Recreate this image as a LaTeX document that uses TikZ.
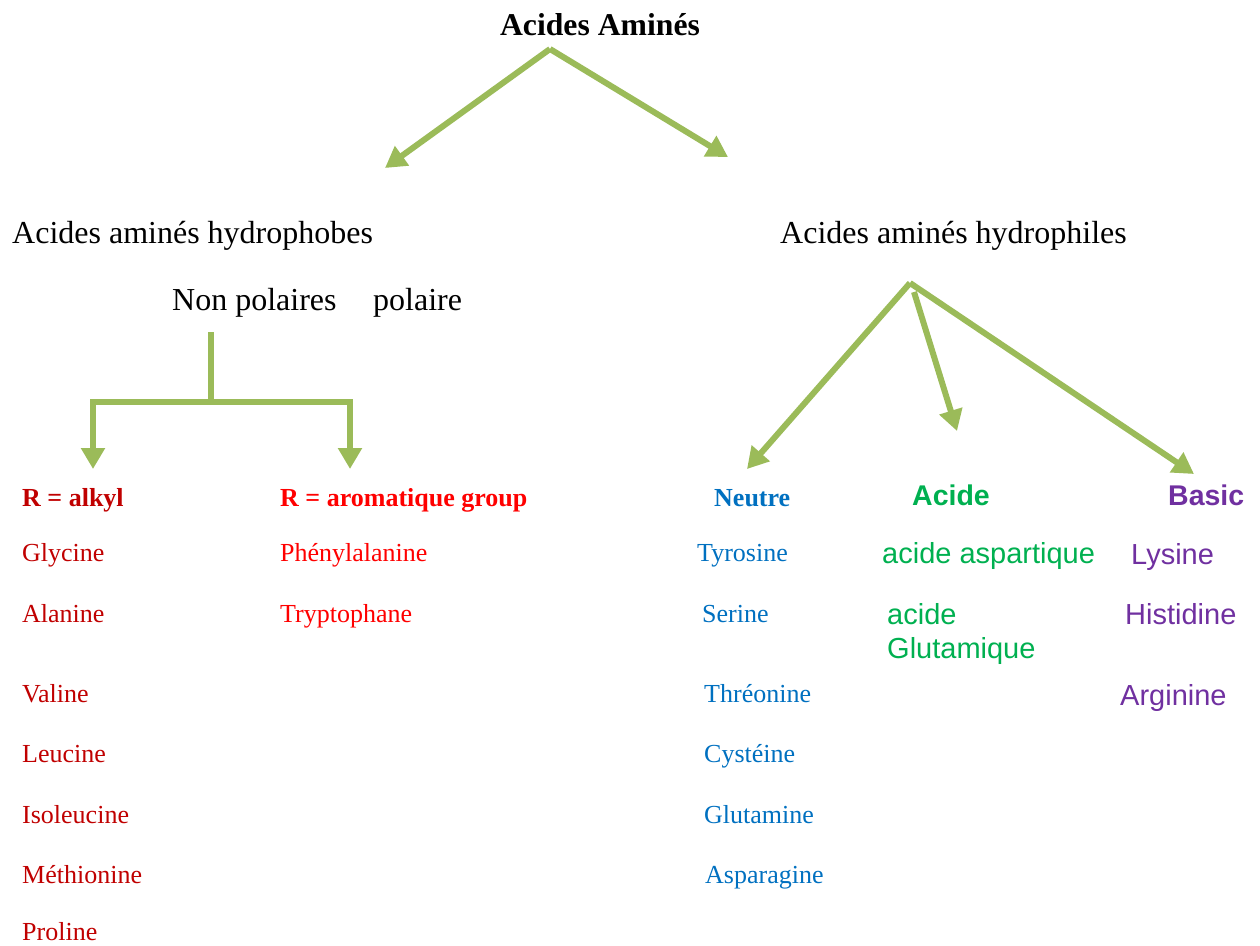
\documentclass[tikz,border=0pt]{standalone}
\usepackage{fontspec}
\setmainfont{Liberation Serif}
\newfontfamily\arialfont{Liberation Sans}
\usetikzlibrary{arrows.meta}
\definecolor{lineg}{HTML}{9BBB59}
\definecolor{dred}{HTML}{C00000}
\definecolor{bred}{HTML}{FF0000}
\definecolor{nblue}{HTML}{0070C0}
\definecolor{agreen}{HTML}{00B050}
\definecolor{bpurple}{HTML}{7030A0}
\begin{document}
\begin{tikzpicture}[x=1pt,y=-1pt,
  lbl/.style={anchor=base west, inner sep=0pt, font=\fontsize{32}{36}\selectfont},
  item/.style={anchor=base west, inner sep=0pt, font=\fontsize{26}{30}\selectfont},
  bitem/.style={anchor=base west, inner sep=0pt, font=\bfseries\fontsize{26}{30}\selectfont},
  sitem/.style={anchor=base west, inner sep=0pt, font=\arialfont\fontsize{29}{33}\selectfont},
  sbitem/.style={anchor=base west, inner sep=0pt, font=\arialfont\bfseries\fontsize{28.5}{33}\selectfont},
  seg/.style={draw=lineg, line width=6pt},
  conn/.style={draw=lineg, line width=6pt, -{Triangle[length=21pt,width=23pt]}}]
\useasboundingbox (0,0) rectangle (1260,945);

% titles
\node[anchor=base, inner sep=0pt, font=\bfseries\fontsize{31.7}{36}\selectfont] (title) at (600,35) {Acides Aminés};
\node[lbl] (phob) at (12,243) {Acides aminés hydrophobes};
\node[lbl] (phil) at (780,243) {Acides aminés hydrophiles};
\node[lbl] (npol) at (172,310) {Non polaires};
\node[lbl] (pol) at (373,310) {polaire};

% left column
\node[bitem, text=dred] (alkyl) at (22,506) {R = alkyl};
\node[item, text=dred] (gly) at (22,561) {Glycine};
\node[item, text=dred] (ala) at (22,622) {Alanine};
\node[item, text=dred] (val) at (22,702) {Valine};
\node[item, text=dred] (leu) at (22,762) {Leucine};
\node[item, text=dred] (ile) at (22,823) {Isoleucine};
\node[item, text=dred] (met) at (22,883) {Méthionine};
\node[item, text=dred] (pro) at (22,940) {Proline};

\node[bitem, text=bred] (arom) at (280,506) {R = aromatique group};
\node[item, text=bred] (phe) at (280,561) {Phénylalanine};
\node[item, text=bred] (trp) at (280,622) {Tryptophane};

% neutral
\node[bitem, text=nblue] (neutre) at (714,506) {Neutre};
\node[item, text=nblue] (tyr) at (697,561) {Tyrosine};
\node[item, text=nblue] (ser) at (702,622) {Serine};
\node[item, text=nblue] (thr) at (704,702) {Thréonine};
\node[item, text=nblue] (cys) at (704,762) {Cystéine};
\node[item, text=nblue] (gln) at (704,823) {Glutamine};
\node[item, text=nblue] (asn) at (705,883) {Asparagine};

% acid
\node[sbitem, text=agreen] (acide) at (912,505) {Acide};
\node[sitem, text=agreen] (asp) at (882,563) {acide aspartique};
\node[sitem, text=agreen] (glu1) at (887,624) {acide};
\node[sitem, text=agreen] (glu2) at (887,658) {Glutamique};

% basic
\node[sbitem, text=bpurple] (basic) at (1168,505) {Basic};
\node[sitem, text=bpurple] (lys) at (1131,564) {Lysine};
\node[sitem, text=bpurple] (his) at (1125,624) {Histidine};
\node[sitem, text=bpurple] (arg) at (1120,705) {Arginine};

% connector points
\coordinate (tapex) at (550,49);
\coordinate (tleft) at (385,168);
\coordinate (tright) at (728,157);
\coordinate (vtop) at (211,332);
\coordinate (vbot) at (211,402);
\coordinate (talk) at (93,469);
\coordinate (taro) at (350,469);
\coordinate (hapex) at (910,283);
\coordinate (hmid) at (914,292);
\coordinate (tneu) at (747,469);
\coordinate (tacid) at (957,431);
\coordinate (tbas) at (1194,474);

% connectors
\draw[conn] (tapex) -- (tleft);
\draw[conn] (tapex) -- (tright);
\draw[seg] (vtop) -- (vbot);
\draw[conn] (vbot) -| (talk);
\draw[conn] (vbot) -| (taro);
\draw[conn] (hapex) -- (tneu);
\draw[conn] (hmid) -- (tacid);
\draw[conn] (hapex) -- (tbas);
\end{tikzpicture}
\end{document}
